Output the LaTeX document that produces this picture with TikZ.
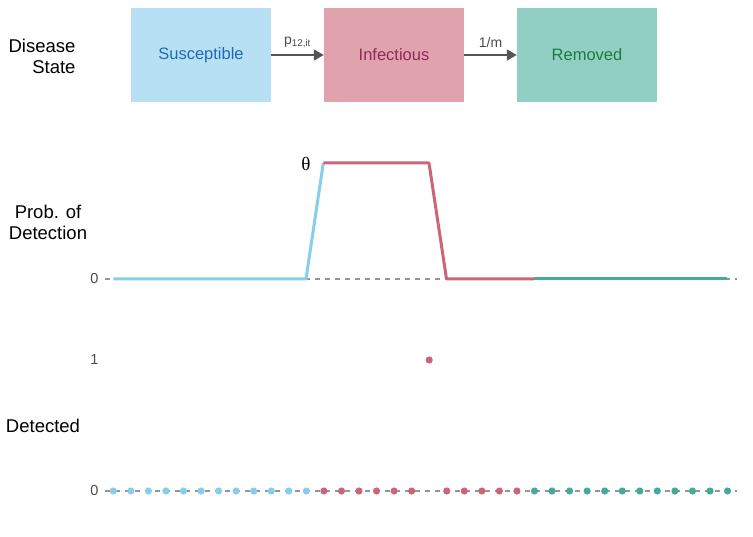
\documentclass[tikz,border=0pt]{standalone}
\usepackage{fontspec}
\setmainfont{Liberation Sans}
\newfontfamily\thetafont{Liberation Serif}
\usetikzlibrary{arrows.meta}
\definecolor{cblue}{HTML}{88CCEE}
\definecolor{cred}{HTML}{CC6677}
\definecolor{cteal}{HTML}{44AA99}
\definecolor{fblue}{HTML}{B8E0F4}
\definecolor{fred}{HTML}{E0A3AD}
\definecolor{fteal}{HTML}{91CEC3}
\definecolor{tblue}{HTML}{1F6AB5}
\definecolor{tred}{HTML}{8E2B5B}
\definecolor{tteal}{HTML}{1F7D3B}
\definecolor{axgray}{HTML}{4D4D4D}
\definecolor{dashgray}{HTML}{959595}
\definecolor{arrgray}{HTML}{555555}
\tikzset{
  statebox/.style={minimum width=140pt, minimum height=94pt, inner sep=0pt, font=\fontsize{16.5}{18}\selectfont},
  trans/.style={draw=arrgray, line width=1.8pt, -{Triangle[length=10pt,width=11pt]}},
  translabel/.style={text=axgray, font=\fontsize{14}{16}\selectfont},
  rowlabel/.style={font=\fontsize{18.5}{21}\selectfont, text=black, align=center},
  ticklabel/.style={text=axgray, font=\fontsize{14.5}{16}\selectfont, anchor=east},
  refline/.style={draw=dashgray, line width=1.4pt, dash pattern=on 5pt off 5pt},
  probline/.style={line width=3pt, line join=round},
  dot/.style={circle, inner sep=0pt, minimum size=7.2pt}
}
\begin{document}
\begin{tikzpicture}[x=1pt,y=-1pt]
\useasboundingbox (0,0) rectangle (753,537);
% disease states
\node[rowlabel, align=right, anchor=east] (dslab) at (79,56) {Disease\\State};
\node[statebox, fill=fblue, text=tblue] (sus) at (201,55) {Susceptible};
\node[statebox, fill=fred, text=tred] (inf) at (394,55) {Infectious};
\node[statebox, fill=fteal, text=tteal] (rem) at (587,55) {Removed};
\draw[trans] (sus.east) -- node[translabel, above=3pt] (p12) {p\textsubscript{12,it}} (inf.west);
\draw[trans] (inf.east) -- node[translabel, above=3pt] (mrate) {1/m} (rem.west);
% probability of detection
\node[rowlabel] (pdlab) at (48,222) {Prob. of\\Detection};
\node[ticklabel] (t0a) at (102,279) {0};
\draw[refline] (105,279) -- (737,279);
\coordinate (b0) at (113.3,279);
\coordinate (b1) at (306,279);
\coordinate (r0) at (323.3,163);
\coordinate (r1) at (429,163);
\coordinate (r2) at (446.5,279);
\coordinate (g0) at (534.3,279);
\coordinate (g1) at (727.3,279);
\draw[probline, cblue] (b0) -- (b1) -- (r0);
\draw[probline, cred] (r0) -- (r1) -- (r2) -- (g0);
\draw[probline, cteal] (g0) -- (g1);
\node[anchor=east, font=\thetafont\fontsize{19}{20}\selectfont, text=black] (theta) at (314,164) {θ};
% detected
\node[rowlabel] (detlab) at (43,426) {Detected};
\node[ticklabel] (t1) at (102,360) {1};
\node[ticklabel] (t0b) at (102,491) {0};
\draw[refline] (105,491) -- (737,491);
\foreach \i in {0,...,11} {
  \node[dot, fill=cblue] (d\i) at ({113.3+17.55*\i},491) {};
}
\foreach \i in {12,...,17,19,20,21,22,23} {
  \node[dot, fill=cred] (d\i) at ({113.3+17.55*\i},491) {};
}
\node[dot, fill=cred] (d18) at ({113.3+17.55*18},360) {};
\foreach \i in {24,...,35} {
  \node[dot, fill=cteal] (d\i) at ({113.3+17.55*\i},491) {};
}
\end{tikzpicture}
\end{document}
